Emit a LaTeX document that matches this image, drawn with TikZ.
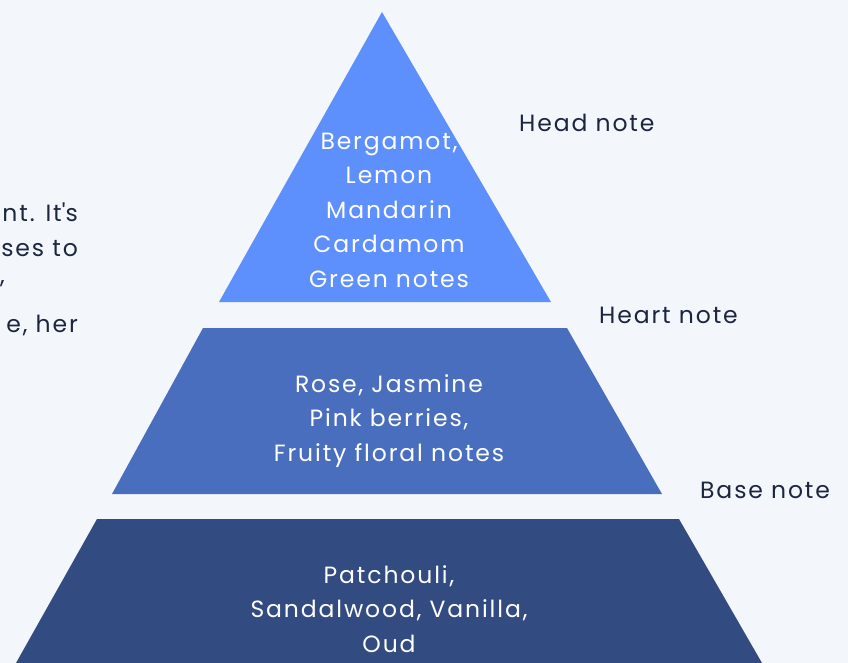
\documentclass[tikz,border=0pt]{standalone}
\usepackage{fontspec}
\setmainfont{Poppins}[LetterSpace=8]
\usetikzlibrary{positioning}
\definecolor{bgcol}{HTML}{F3F6FA}
\definecolor{headcol}{HTML}{5E90FD}
\definecolor{heartcol}{HTML}{4A6EBE}
\definecolor{basecol}{HTML}{324B80}
\definecolor{inkcol}{HTML}{1C2640}
\tikzset{
	layertext/.style={align=center, text=white, font=\fontsize{23.5}{34.5}\selectfont},
	notelabel/.style={anchor=west, text=inkcol, font=\fontsize{23.5}{30}\selectfont, inner sep=0pt},
	cuttext/.style={text=inkcol, font=\fontsize{23.5}{30}\selectfont, inner sep=0pt}
}

\begin{document}
\begin{tikzpicture}[x=1pt, y=-1pt]
			%%%%% START %%%%%
			
			\useasboundingbox (0, 0) rectangle (848, 663);
			\clip (0, 0) rectangle (848, 663);
			\fill[bgcol] (0, 0) rectangle (848, 663);
			
			% pyramid layers
			\fill[headcol] (382, 12) -- (551, 302) -- (219, 302) -- cycle;
			\fill[heartcol] (203, 328) -- (567, 328) -- (662, 494) -- (112, 494) -- cycle;
			\fill[basecol] (97, 519) -- (679, 519) -- (762, 663) -- (16, 663) -- cycle;
			
			\node[layertext] (head) at (389, 210) {Bergamot,\\Lemon\\Mandarin\\Cardamom\\Green notes};
			\node[layertext] (heart) at (389, 421) {Rose, Jasmine\\Pink berries,\\Fruity floral notes};
			\node[layertext] (base) at (389, 609) {Patchouli,\\Sandalwood, Vanilla,\\Oud};
			
			% labels on the right
			\node[notelabel] (headlbl) at (519, 123) {Head note};
			\node[notelabel] (heartlbl) at (599, 315) {Heart note};
			\node[notelabel] (baselbl) at (700, 490) {Base note};
			
			% text cut off at the left edge
			\node[cuttext, anchor=east] (cutA) at (78, 212) {nt. It\textquotesingle s};
			\node[cuttext, anchor=east] (cutB) at (78, 249) {ses to};
			\node[cuttext, anchor=west] (cutC) at (0, 284) {,};
			\node[cuttext, anchor=east] (cutD) at (78, 325) {e, her};
			
			%%%%% END %%%%%
		\end{tikzpicture}
\end{document}
